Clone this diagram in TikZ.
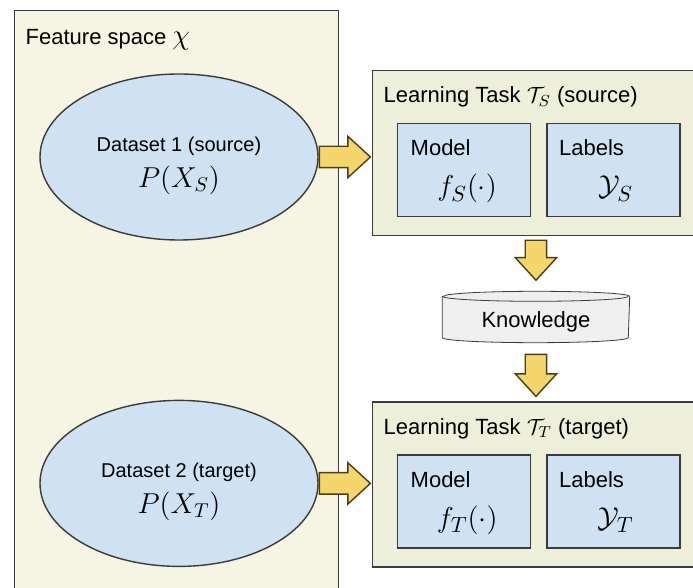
\documentclass[tikz,border=0pt]{standalone}
\usepackage{amsmath}
\usepackage{fontspec}
\setmainfont{Liberation Sans}
\usetikzlibrary{positioning, calc, shapes.geometric, shapes.arrows, backgrounds}

\definecolor{featfill}{HTML}{F6F4E2}
\definecolor{taskfill}{HTML}{EEEFD9}
\definecolor{boxblue}{HTML}{CFE2F3}
\definecolor{arrowfill}{HTML}{F5D66A}
\definecolor{arrowline}{HTML}{4A3E1A}
\definecolor{linegray}{HTML}{3A3A3A}
\definecolor{knowfill}{HTML}{EFEFEF}

\begin{document}
\begin{tikzpicture}[
            x = 0.5pt, y = -0.5pt, % one unit per pixel, y pointing down
            line width = 0.7pt,
            font = \fontsize{11}{13}\selectfont
        ]

        \tikzstyle{outer box}=[
            draw = linegray,
            anchor = north west,
            inner sep = 0pt
        ]
        \tikzstyle{inner box}=[
            outer box,
            fill = boxblue,
            minimum width = 66.5pt,
            minimum height = 46.5pt
        ]
        \tikzstyle{data set}=[
            ellipse,
            draw = linegray,
            fill = boxblue,
            minimum width = 139pt,
            minimum height = 83pt,
            align = center,
            font = \fontsize{10}{12}\selectfont
        ]
        \tikzstyle{fat arrow}=[
            single arrow,
            draw = arrowline,
            fill = arrowfill,
            minimum width = 20pt,
            single arrow head extend = 5pt,
            single arrow tip angle = 85,
            inner sep = 5pt
        ]
        \tikzstyle{plain text}=[anchor = base west, inner sep = 0pt]
        \tikzstyle{bigmath}=[anchor = base, inner sep = 0pt, font = \fontsize{15.5}{18}\selectfont]

        \useasboundingbox (0,0) rectangle (693,588);
        \clip (0,0) rectangle (693,588);

        % feature space
        \node[outer box, fill = featfill, minimum width = 162pt, minimum height = 310pt] (feat) at (14,10) {};
        \node[plain text] (featlabel) at (25,45) {Feature space {\fontsize{14}{16}\selectfont$\chi$}};

        \node[data set] (ds1) at (179,157) {\rule{0pt}{16pt}Dataset 1 (source)\\[4pt] {\fontsize{14}{16}\selectfont$P(X_S)$}};
        \node[data set] (ds2) [below = 79.5pt of ds1] {\rule{0pt}{16pt}Dataset 2 (target)\\[4pt] {\fontsize{14}{16}\selectfont$P(X_T)$}};

        % source task
        \node[outer box, fill = taskfill, minimum width = 174pt, minimum height = 82.5pt] (taskS) at (372,70) {};
        \node[plain text] (titleS) at ($(taskS.north west)+(11,33)$) {Learning Task $\mathcal{T}_S$ (source)};
        \node[inner box] (modelS) [below right = 26.5pt and 12.5pt of taskS.north west] {};
        \node[inner box] (labelS) [right = 7.5pt of modelS] {};
        \node[plain text] at ($(modelS.north west)+(13,33)$) {Model};
        \node[bigmath] at ($(modelS.north)+(3,73)$) {$f_S(\cdot)$};
        \node[plain text] at ($(labelS.north west)+(12,33)$) {Labels};
        \node[bigmath] at ($(labelS.north)+(2,73)$) {$\mathcal{Y}_S$};

        % target task
        \node[outer box, fill = taskfill, minimum width = 174pt, minimum height = 82.5pt] (taskT) [below = 82.5pt of taskS] {};
        \node[plain text] (titleT) at ($(taskT.north west)+(11,33)$) {Learning Task $\mathcal{T}_T$ (target)};
        \node[inner box] (modelT) [below right = 26.5pt and 12.5pt of taskT.north west] {};
        \node[inner box] (labelT) [right = 7.5pt of modelT] {};
        \node[plain text] at ($(modelT.north west)+(13,33)$) {Model};
        \node[bigmath] at ($(modelT.north)+(3,73)$) {$f_T(\cdot)$};
        \node[plain text] at ($(labelT.north west)+(12,33)$) {Labels};
        \node[bigmath] at ($(labelT.north)+(2,73)$) {$\mathcal{Y}_T$};

        % knowledge store
        \node[minimum width = 93pt, minimum height = 20pt, inner sep = 0pt] (know) at (536,322) {Knowledge};
        \begin{scope}[on background layer]
            \fill[white] (0,0) rectangle (693,588);
            \draw[draw = linegray, fill = knowfill]
                ([yshift = 2.5pt]know.north west) -- ([yshift = 2.5pt]know.south west)
                arc[start angle = 180, end angle = 360, x radius = 46.5pt, y radius = 2.5pt]
                -- ([yshift = 2.5pt]know.north east)
                arc[start angle = 0, end angle = 180, x radius = 46.5pt, y radius = 2.5pt] -- cycle;
            \draw[draw = linegray] ([yshift = 2.5pt]know.north west)
                arc[start angle = 180, end angle = 360, x radius = 46.5pt, y radius = 2.5pt];
        \end{scope}

        % block arrows
        \node[fat arrow, minimum height = 25.5pt, anchor = tail] (arrS) at (ds1.east) {};
        \node[fat arrow, minimum height = 25.5pt, anchor = tail] (arrT) at (ds2.east) {};
        \node[fat arrow, shape border rotate = 270, minimum height = 20pt, anchor = tip] (arrK) at ([yshift = 10pt]know.north) {};
        \node[fat arrow, shape border rotate = 270, minimum height = 21pt, anchor = tail] (arrU) at ([yshift = -5.5pt]know.south) {};

  \end{tikzpicture}
\end{document}
